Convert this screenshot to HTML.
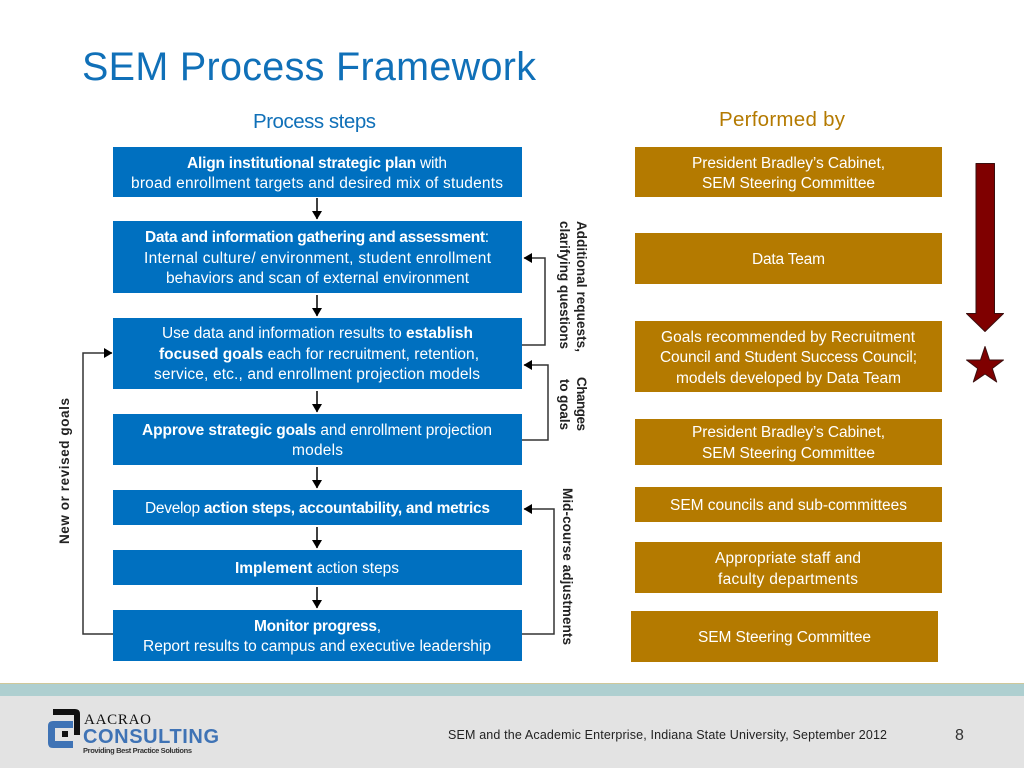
<!DOCTYPE html>
<html><head><meta charset="utf-8"><style>
html,body{margin:0;padding:0;background:#fff;width:1024px;height:768px;overflow:hidden}
svg{display:block}
text{font-family:"Liberation Sans",sans-serif}
.w{fill:#fff;font-size:15.5px}
.w tspan.b,.b{font-weight:bold}
.v{fill:#222;font-size:13.5px;font-weight:bold}
</style></head><body>
<svg width="1024" height="768" viewBox="0 0 1024 768" xmlns="http://www.w3.org/2000/svg">
<defs>
<marker id="a" markerWidth="9" markerHeight="11" refX="8" refY="5.500" orient="auto" markerUnits="userSpaceOnUse"><path d="M0 0.500L8.500 5.500L0 10.500Z" fill="#000"/></marker>
</defs>
<rect width="1024" height="768" fill="#fff"/>
<text x="82" y="80" font-size="39.500" fill="#1070b8" textLength="454">SEM Process Framework</text>
<text x="253" y="128" font-size="20.500" fill="#1070b8" textLength="123">Process steps</text>
<text x="719" y="126" font-size="20.500" fill="#b47a00" textLength="126">Performed by</text>

<g fill="#0070c0">
<rect x="113" y="147" width="409" height="50"/>
<rect x="113" y="221" width="409" height="72"/>
<rect x="113" y="318" width="409" height="71"/>
<rect x="113" y="414" width="409" height="51"/>
<rect x="113" y="490" width="409" height="35"/>
<rect x="113" y="550" width="409" height="35"/>
<rect x="113" y="610" width="409" height="51"/>
</g>
<g fill="#b47a00">
<rect x="635" y="147" width="307" height="50"/>
<rect x="635" y="233" width="307" height="51"/>
<rect x="635" y="321" width="307" height="71"/>
<rect x="635" y="419" width="307" height="46"/>
<rect x="635" y="487" width="307" height="35"/>
<rect x="635" y="542" width="307" height="51"/>
<rect x="631" y="611" width="307" height="51"/>
</g>

<g class="w">
<text class="w" x="187" y="168" textLength="260"><tspan class="b">Align institutional strategic plan</tspan> with</text>
<text class="w" x="131" y="188" textLength="372">broad enrollment targets  and desired mix of students</text>
<text class="w" x="145" y="242" textLength="344"><tspan class="b">Data and information gathering and assessment</tspan>:</text>
<text class="w" x="144" y="263" textLength="347">Internal culture/ environment, student enrollment</text>
<text class="w" x="166" y="283" textLength="303">behaviors and scan of external environment</text>
<text class="w" x="162" y="338" textLength="311">Use data and information results to <tspan class="b">establish</tspan></text>
<text class="w" x="159" y="359" textLength="320"><tspan class="b">focused goals</tspan> each for recruitment, retention,</text>
<text class="w" x="154" y="379" textLength="326">service, etc., and enrollment projection models</text>
<text class="w" x="142" y="435" textLength="350"><tspan class="b">Approve strategic goals</tspan> and enrollment projection</text>
<text class="w" x="292" y="455" textLength="51">models</text>
<text class="w" x="145" y="513" textLength="345">Develop <tspan class="b">action steps, accountability, and metrics</tspan></text>
<text class="w" x="235" y="573" textLength="164"><tspan class="b">Implement</tspan> action steps</text>
<text class="w" x="254" y="631" textLength="127"><tspan class="b">Monitor progress</tspan>,</text>
<text class="w" x="143" y="651" textLength="348">Report results to campus and executive leadership</text>

<text class="w" x="692" y="168" textLength="193">President Bradley’s Cabinet,</text>
<text class="w" x="702" y="188" textLength="173">SEM Steering Committee</text>
<text class="w" x="752" y="264" textLength="73">Data Team</text>
<text class="w" x="661" y="342" textLength="254">Goals recommended by Recruitment</text>
<text class="w" x="660" y="362" textLength="257">Council and Student Success Council;</text>
<text class="w" x="676" y="383" textLength="225">models developed by Data Team</text>
<text class="w" x="692" y="437" textLength="193">President Bradley’s Cabinet,</text>
<text class="w" x="702" y="458" textLength="173">SEM Steering Committee</text>
<text class="w" x="670" y="510" textLength="237">SEM councils and sub-committees</text>
<text class="w" x="715" y="563" textLength="146">Appropriate staff and</text>
<text class="w" x="718" y="584" textLength="140">faculty departments</text>
<text class="w" x="698" y="642" textLength="173">SEM Steering Committee</text>
</g>

<g stroke="#000" stroke-width="1.5" fill="none">
<path d="M317 198V219" marker-end="url(#a)"/>
<path d="M317 295V316" marker-end="url(#a)"/>
<path d="M317 391V412" marker-end="url(#a)"/>
<path d="M317 467V488" marker-end="url(#a)"/>
<path d="M317 527V548" marker-end="url(#a)"/>
<path d="M317 587V608" marker-end="url(#a)"/>
</g>
<g stroke="#333" stroke-width="1.5" fill="none">
<path d="M522 345H545V258H524" marker-end="url(#a)"/>
<path d="M522 440H548V365H524" marker-end="url(#a)"/>
<path d="M522 634H554V509H524" marker-end="url(#a)"/>
<path d="M113 634H83V353H112" marker-end="url(#a)"/>
</g>

<g class="v">
<text class="v" transform="translate(577 221) rotate(90)" textLength="131">Additional requests,</text>
<text class="v" transform="translate(560 221) rotate(90)" textLength="128">clarifying questions</text>
<text class="v" transform="translate(577 377) rotate(90)" textLength="54">Changes</text>
<text class="v" transform="translate(560 379) rotate(90)" textLength="51">to goals</text>
<text class="v" transform="translate(563 488) rotate(90)" textLength="157">Mid-course adjustments</text>
<text class="v" transform="translate(69 544) rotate(-90)" textLength="146">New or revised goals</text>
</g>

<path d="M976 163.500H994.500V313.500H1003.500L985 331.500L966.500 313.500H976Z" fill="#7f0000" stroke="#3a0f0f" stroke-width="1" stroke-linejoin="round"/>
<path d="M985 346.500L989.500 360H1003.500L992.300 368.500L996.700 382L985 374L973.300 382L977.700 368.500L966.500 360H980.500Z" fill="#7f0000" stroke="#3a0f0f" stroke-width="1" stroke-linejoin="round"/>

<rect x="0" y="683" width="1024" height="13" fill="#aecfd0"/>
<rect x="0" y="683" width="1024" height="1" fill="#cfc89a"/>
<rect x="0" y="696" width="1024" height="72" fill="#e3e3e3"/>

<path d="M53 709H75Q80 709 80 714V735H74V715H53Z" fill="#111"/>
<path d="M73 721H53Q48 721 48 726V743Q48 748 53 748H73V741H55V728H73Z" fill="#3f73b5"/>
<rect x="62" y="731" width="6" height="6" fill="#111"/>
<text x="84" y="724" style="font-family:'Liberation Serif',serif" font-size="15" fill="#111" textLength="67">AACRAO</text>
<text x="83" y="743" font-size="20" font-weight="bold" fill="#3f73b5" textLength="136">CONSULTING</text>
<text x="83" y="753" font-size="7.500" font-weight="bold" fill="#333" textLength="109">Providing Best Practice Solutions</text>

<text x="448" y="739" font-size="12.500" fill="#222" textLength="439">SEM and the Academic Enterprise, Indiana State University, September 2012</text>
<text x="955" y="740" font-size="16" fill="#333">8</text>
</svg>
</body></html>
